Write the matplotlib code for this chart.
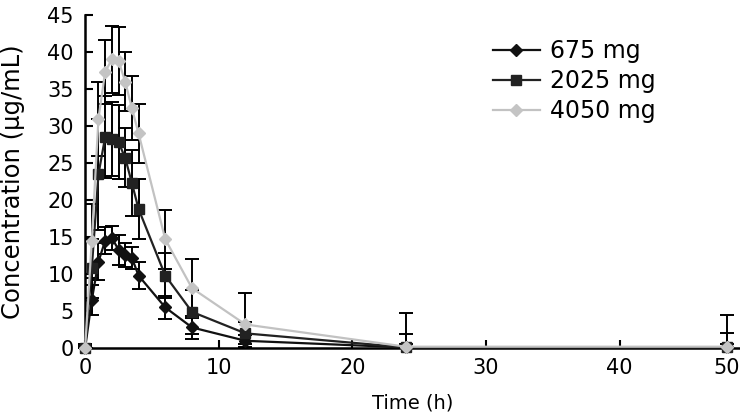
import numpy as np
import matplotlib.pyplot as plt

# sampling times (h) and mean concentrations (ug/mL)
time = [0, 0.5, 1, 1.5, 2, 2.5, 3, 3.5, 4, 6, 8, 12, 24, 48]

conc_675 = [0, 6.5, 11.7, 14.5, 14.9, 13.3, 12.6, 12.2, 9.8, 5.5, 2.8, 1.0, 0.1, 0.1]
sd_675 = [0.3, 2.0, 2.5, 1.8, 1.6, 2.0, 1.6, 1.5, 1.8, 1.5, 1.5, 0.8, 0.5, 0.5]

conc_2025 = [0, 10.8, 23.5, 28.5, 28.3, 27.8, 25.7, 22.3, 18.8, 9.8, 4.9, 2.0, 0.1, 0.1]
sd_2025 = [0.5, 4.0, 7.5, 5.5, 5.0, 5.0, 4.0, 4.5, 4.0, 3.0, 3.0, 1.5, 1.8, 2.0]

conc_4050 = [0, 14.5, 31.0, 37.3, 39.0, 38.8, 36.0, 32.4, 29.0, 14.7, 8.1, 3.2, 0.2, 0.2]
sd_4050 = [0.5, 5.0, 5.0, 4.3, 4.5, 4.6, 4.0, 4.3, 4.0, 4.0, 4.0, 4.3, 4.5, 4.3]

labels = ['675 mg', '2025 mg', '4050 mg']
xtick_vals = [0, 10, 20, 30, 40, 48]
xtick_labels = ['0', '10', '20', '30', '40', '50']

fig = plt.figure(figsize=(7.4, 4.15), dpi=100)
ax = fig.add_axes([0.115, 0.161, 0.885, 0.803])

series = [
    (conc_675, sd_675, 'D', '#111111', '#111111', 6),
    (conc_2025, sd_2025, 's', '#222222', '#222222', 7),
    (conc_4050, sd_4050, 'D', '#c2c2c2', '#c4c4c4', 6),
]
for (c, sd, mk, lc, mc, ms), lab in zip(series, labels):
    c = np.array(c)
    sd = np.array(sd)
    # error bars are not drawn below zero
    yerr = [np.minimum(sd, c), sd]
    ax.errorbar(time, c, yerr=yerr, fmt='none', ecolor='black', elinewidth=1.4,
                capsize=5, capthick=1.4, clip_on=False, zorder=2)
    ax.plot(time, c, marker=mk, color=lc, markerfacecolor=mc, markeredgecolor=mc,
            markersize=ms, linewidth=1.6, label=lab, clip_on=False, zorder=3)

ax.set_xlim(0, 49)
ax.set_ylim(0, 45)
ax.set_yticks(np.arange(0, 46, 5))
ax.set_xticks(xtick_vals)
ax.set_xticklabels(xtick_labels)

for s in ['top', 'right']:
    ax.spines[s].set_visible(False)
for s in ['left', 'bottom']:
    ax.spines[s].set_linewidth(1.8)
ax.tick_params(direction='in', length=6, width=1.5, labelsize=15)
ax.tick_params(axis='x', pad=7)
ax.tick_params(axis='y', pad=8)

ax.set_xlabel('Time (h)', fontsize=14, labelpad=11)
ax.set_ylabel('Concentration (\u03bcg/mL)', fontsize=17.5, labelpad=16)

fig.legend(loc='upper left', bbox_to_anchor=(0.666, 0.905), frameon=False,
           fontsize=17, handlelength=2.0, labelspacing=0.25, handletextpad=0.4,
           borderpad=0, borderaxespad=0)

plt.savefig('out.png', dpi=100)
